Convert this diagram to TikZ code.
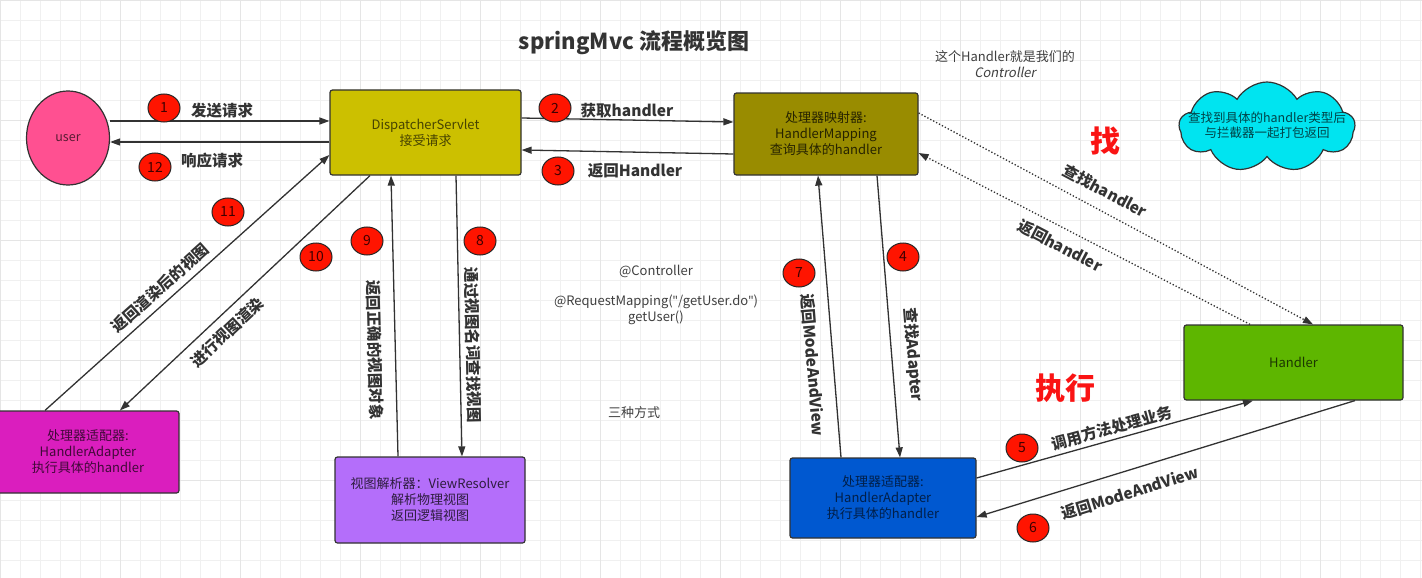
\documentclass[tikz,border=0pt]{standalone}
\usepackage{fontspec}
\setmainfont{Noto Sans CJK SC}
\newfontfamily\slantcjk{Noto Sans CJK SC}[FakeSlant=0.2]
\newfontfamily\latinsans{Noto Sans}
\newcommand\straightquote{{\latinsans\symbol{34}}}
\usetikzlibrary{arrows.meta,shapes.symbols,shapes.geometric}
\definecolor{dsfill}{RGB}{204,192,0}
\definecolor{hmfill}{RGB}{153,140,0}
\definecolor{magfill}{RGB}{218,30,190}
\definecolor{vrfill}{RGB}{180,110,250}
\definecolor{bluefill}{RGB}{0,88,208}
\definecolor{greenfill}{RGB}{94,182,0}
\definecolor{userfill}{RGB}{255,80,145}
\definecolor{cloudfill}{RGB}{0,228,240}
\definecolor{badgered}{RGB}{255,20,0}
\definecolor{bigred}{RGB}{250,20,20}
\definecolor{linecol}{RGB}{50,50,50}
\tikzset{
  box/.style={draw=linecol, line width=1.2pt, rounded corners=2.5pt, align=center,
    font=\fontsize{13}{16}\selectfont, inner sep=0pt},
  arr/.style={draw=linecol, line width=1.3pt, -{Triangle[length=10pt,width=7pt]}},
  dotarr/.style={draw=linecol, line width=1.3pt, dotted, -{Triangle[length=10pt,width=7pt]}},
  badge/.style={ellipse, draw=black!85, line width=1pt, fill=badgered, minimum width=32pt,
    minimum height=28pt, inner sep=0pt, font=\fontsize{14}{14}\selectfont, text=red!25!black},
  lbl/.style={font=\bfseries\fontsize{15.5}{18}\selectfont, text=black!80, inner sep=0pt},
  note/.style={font=\fontsize{13}{16}\selectfont, text=black!75, align=center, inner sep=0pt},
  big/.style={font=\bfseries\fontsize{30}{30}\selectfont, text=bigred, inner sep=0pt}
}
\begin{document}
\begin{tikzpicture}[x=1pt,y=-1pt]
\useasboundingbox (0,0) rectangle (1422,578);
\fill[white] (0,0) rectangle (1422,578);
% grid
\foreach \x in {0,20,...,1420} \draw[black!6, line width=0.6pt] (\x,0) -- (\x,578);
\foreach \y in {0,20,...,578} \draw[black!6, line width=0.6pt] (0,\y) -- (1422,\y);
\foreach \x in {0,120,...,1420} \draw[black!10, line width=0.8pt] (\x,0) -- (\x,578);
\foreach \y in {0,120,...,578} \draw[black!10, line width=0.8pt] (0,\y) -- (1422,\y);

% title
\node[font=\bfseries\fontsize{22}{22}\selectfont, text=black!80] (title) at (634,43) {springMvc 流程概览图};

% nodes
\node[ellipse, draw=linecol, line width=1.2pt, fill=userfill, minimum width=83pt, minimum height=94pt,
  inner sep=0pt, font=\fontsize{12.5}{15}\selectfont, text=userfill!35!black] (user) at (68,138) {user};
\node[box, fill=dsfill, text=dsfill!35!black, minimum width=191pt, minimum height=85pt] (ds) at (425.5,132.5)
  {DispatcherServlet\\接受请求};
\node[box, fill=hmfill, text=hmfill!25!black, minimum width=184pt, minimum height=82pt] (hm) at (826,134)
  {处理器映射器:\\HandlerMapping\\查询具体的handler};
\node[cloud, cloud puffs=9, cloud puff arc=120, aspect=2, draw=linecol, line width=1.2pt, fill=cloudfill,
  minimum width=176pt, minimum height=90pt, inner sep=0pt] (cloud) at (1267,127) {};
\node[note, font=\fontsize{12.5}{15}\selectfont, text=cloudfill!30!black] (cloudtext) at (1267,125)
  {查找到具体的handler类型后\\与拦截器一起打包返回};
\node[box, fill=greenfill, text=greenfill!30!black, minimum width=219pt, minimum height=75pt] (handler) at (1293.5,362.5)
  {Handler};
\node[box, fill=magfill, text=magfill!30!black, minimum width=182pt, minimum height=82pt] (ham) at (88,452)
  {处理器适配器:\\HandlerAdapter\\执行具体的handler};
\node[box, fill=vrfill, text=vrfill!25!black, minimum width=190pt, minimum height=86pt] (vr) at (430,500)
  {视图解析器：ViewResolver\\解析物理视图\\返回逻辑视图};
\node[box, fill=bluefill, text=bluefill!35!black, minimum width=186pt, minimum height=80pt] (hab) at (883,498)
  {处理器适配器:\\HandlerAdapter\\执行具体的handler};

% notes
\node[note] (n1) at (1005,64) {这个Handler就是我们的\\{\slantcjk Controller}};
\node[note] (n2) at (656,271) {@Controller};
\node[note] (n3) at (656,310) {@RequestMapping(\straightquote/getUser.do\straightquote)\\getUser()};
\node[note] (n4) at (634,413) {三种方式};
\node[big] (zhao) at (1105,141) {找};
\node[big] (zhixing) at (1065,388) {执行};

% arrows
\draw[arr] (user.east |- 0,121) -- (ds.west |- 0,121);
\draw[arr] (ds.west |- 0,142) -- (user.east |- 0,142);
\draw[arr] (ds.east |- 0,118) -- (hm.west |- 0,122);
\draw[arr] (hm.west |- 0,154) -- (ds.east |- 0,150);
\draw[dotarr] (hm.east |- 0,113) -- (handler.north -| 1313,0);
\draw[dotarr] (handler.north -| 1250,0) -- (hm.east |- 0,153);
\draw[arr] (hm.south -| 877,0) -- (hab.north -| 900,0);
\draw[arr] (hab.north -| 841,0) -- (hm.south -| 818,0);
\draw[arr] (hab.east |- 0,478) -- (handler.south -| 1253,0);
\draw[arr] (handler.south -| 1355,0) -- (hab.east |- 0,517);
\draw[arr] (ds.south -| 456,0) -- (vr.north -| 462,0);
\draw[arr] (vr.north -| 398,0) -- (ds.south -| 391,0);
\draw[arr] (ds.south -| 370,0) -- (ham.north -| 120,0);
\draw[arr] (ham.north -| 45,0) -- (ds.west |- 0,155);

% badges
\node[badge] (b1) at (164,108) {1};
\node[badge] (b12) at (155,167) {12};
\node[badge] (b2) at (555,108) {2};
\node[badge] (b3) at (558,171) {3};
\node[badge] (b4) at (903,257) {4};
\node[badge] (b5) at (1022,448) {5};
\node[badge] (b6) at (1033,528) {6};
\node[badge] (b7) at (799,273) {7};
\node[badge] (b8) at (480,241) {8};
\node[badge] (b9) at (367,241) {9};
\node[badge] (b10) at (316,257) {10};
\node[badge] (b11) at (228,212) {11};

% labels
\node[lbl] (l1) at (222,111) {发送请求};
\node[lbl] (l12) at (212,161) {响应请求};
\node[lbl] (l2) at (627,111) {获取handler};
\node[lbl] (l3) at (635,171) {返回Handler};
\node[lbl, rotate=-28] (lfind) at (1105,191) {查找handler};
\node[lbl, rotate=-27.5] (lret) at (1060,246) {返回handler};
\node[lbl, rotate=-85.4] (l4) at (913,355) {查找Adapter};
\node[lbl, rotate=-85.4] (l7) at (813,365) {返回ModeAndView};
\node[lbl, rotate=15.3] (l5) at (1112,428) {调用方法处理业务};
\node[lbl, rotate=17.2] (l6) at (1130,493) {返回ModeAndView};
\node[lbl, rotate=-88.8] (l8) at (473,345) {通过视图名词查找视图};
\node[lbl, rotate=-88.6] (l9) at (375,350) {返回正确的视图对象};
\node[lbl, rotate=41.8] (l11) at (160,288) {返回渲染后的视图};
\node[lbl, rotate=43.1] (l10) at (227,332) {进行视图渲染};
\end{tikzpicture}
\end{document}
